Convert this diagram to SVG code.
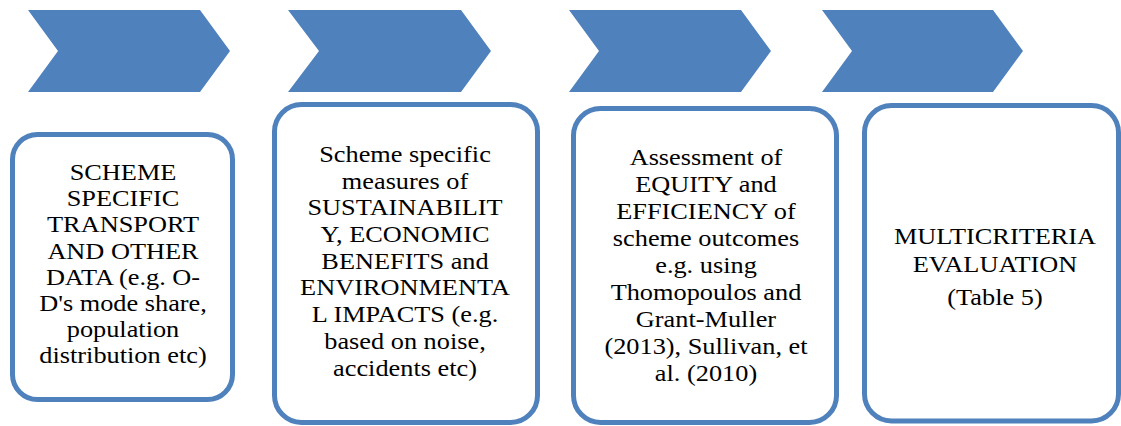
<svg xmlns="http://www.w3.org/2000/svg" width="1121" height="426" viewBox="0 0 1121 426">
<style>
.chev { fill: #4F81BD; }
.box { fill: #FFFFFF; stroke: #4F81BD; stroke-width: 5; }
.t { font-family: 'Liberation Serif', serif; font-size: 23.5px; fill: #000000; text-anchor: middle; }
</style>
<rect width="1121" height="426" fill="#FFFFFF"/>
<g id="connectors">
<polygon class="chev" points="28,10 200,10 230,51 200,92 28,92 58,51"/>
<polygon class="chev" points="288,10 461,10 491,51 461,92 288,92 319,51"/>
<polygon class="chev" points="569,10 741,10 771,51 741,92 569,92 599,51"/>
<polygon class="chev" points="822,10 993,10 1023,51 993,92 822,92 852,51"/>
</g>
<g id="node1">
<rect class="box" x="12.5" y="134.5" width="220" height="265" rx="25"/>
<g transform="translate(123 0) scale(1.12 1)">
<text class="t" x="0" y="180">SCHEME</text>
<text class="t" x="0" y="206.2">SPECIFIC</text>
<text class="t" x="0" y="232.4">TRANSPORT</text>
<text class="t" x="0" y="258.6">AND OTHER</text>
<text class="t" x="0" y="284.8">DATA (e.g. O-</text>
<text class="t" x="0" y="311">D's mode share,</text>
<text class="t" x="0" y="337.2">population</text>
<text class="t" x="0" y="363.4">distribution etc)</text>
</g>
</g>
<g id="node2">
<rect class="box" x="274.5" y="104.5" width="263" height="318" rx="27"/>
<g transform="translate(405 0) scale(1.12 1)">
<text class="t" x="0" y="162">Scheme specific</text>
<text class="t" x="0" y="188.7">measures of</text>
<text class="t" x="0" y="215.4">SUSTAINABILIT</text>
<text class="t" x="0" y="242.1">Y, ECONOMIC</text>
<text class="t" x="0" y="268.8">BENEFITS and</text>
<text class="t" x="0" y="295.5">ENVIRONMENTA</text>
<text class="t" x="0" y="322.2">L IMPACTS (e.g.</text>
<text class="t" x="0" y="348.9">based on noise,</text>
<text class="t" x="0" y="375.6">accidents etc)</text>
</g>
</g>
<g id="node3">
<rect class="box" x="573.5" y="108.5" width="263" height="314" rx="27"/>
<g transform="translate(706 0) scale(1.12 1)">
<text class="t" x="0" y="165">Assessment of</text>
<text class="t" x="0" y="192">EQUITY and</text>
<text class="t" x="0" y="219">EFFICIENCY of</text>
<text class="t" x="0" y="246">scheme outcomes</text>
<text class="t" x="0" y="273">e.g. using</text>
<text class="t" x="0" y="300">Thomopoulos and</text>
<text class="t" x="0" y="327">Grant-Muller</text>
<text class="t" x="0" y="354">(2013), Sullivan, et</text>
<text class="t" x="0" y="381">al. (2010)</text>
</g>
</g>
<g id="node4">
<rect class="box" x="864.5" y="105.5" width="254" height="315.5" rx="27"/>
<g transform="translate(995 0) scale(1.12 1)">
<text class="t" x="0" y="244">MULTICRITERIA</text>
<text class="t" x="0" y="272">EVALUATION</text>
<text class="t" x="0" y="305">(Table 5)</text>
</g>
</g>
</svg>
